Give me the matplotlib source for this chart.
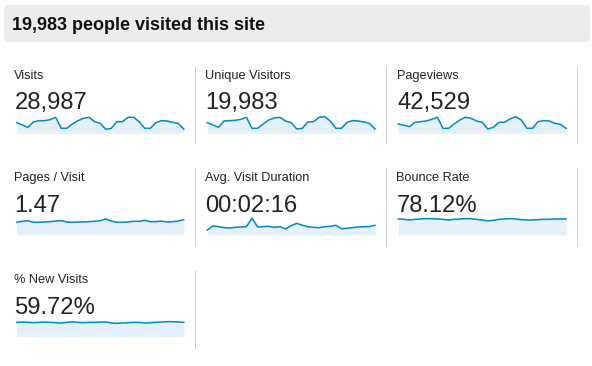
import matplotlib
matplotlib.use("Agg")
import matplotlib.pyplot as plt
from matplotlib.patches import FancyBboxPatch
from matplotlib.lines import Line2D

plt.rcParams['font.family'] = ['Liberation Sans', 'DejaVu Sans']

W, H = 592, 366

title = "19,983 people visited this site"
labels = ["Visits", "Unique Visitors", "Pageviews",
          "Pages / Visit", "Avg. Visit Duration", "Bounce Rate",
          "% New Visits"]
totals = ["28,987", "19,983", "42,529", "1.47", "00:02:16", "78.12%", "59.72%"]

visits = [965, 860, 755, 995, 1055, 1055, 1100, 1205, 710, 710, 905, 1055, 1160, 1205,
          1010, 935, 665, 710, 1010, 1010, 1205, 1205, 1010, 710, 710, 965, 1055, 1040,
          980, 935, 680]
unique = [665, 595, 525, 715, 725, 735, 765, 825, 495, 495, 625, 745, 805, 825, 715,
          665, 475, 495, 685, 695, 825, 845, 715, 495, 495, 675, 725, 715, 685, 645, 475]
pageviews = [1328, 1240, 1152, 1438, 1482, 1526, 1636, 1768, 1042, 1042, 1328, 1592,
             1768, 1702, 1526, 1438, 998, 1108, 1438, 1438, 1658, 1812, 1592, 1042, 1042,
             1482, 1548, 1526, 1372, 1306, 1042]
pages_visit = [1.40, 1.51, 1.58, 1.40, 1.40, 1.43, 1.47, 1.54, 1.58, 1.43, 1.40, 1.43,
               1.43, 1.47, 1.51, 1.58, 1.76, 1.54, 1.40, 1.40, 1.43, 1.51, 1.51, 1.62,
               1.47, 1.47, 1.54, 1.43, 1.47, 1.54, 1.69]
avg_duration = [82, 147, 136, 120, 114, 125, 131, 136, 272, 131, 136, 141, 125, 136, 98,
                152, 190, 158, 136, 125, 120, 136, 141, 158, 103, 109, 120, 131, 136, 136,
                158]
bounce = [78.1, 76.5, 73.2, 76.5, 78.1, 79.7, 79.7, 78.1, 76.5, 73.2, 76.5, 78.1, 79.7,
          79.7, 76.5, 73.2, 68.4, 71.6, 76.5, 78.1, 79.7, 78.1, 74.9, 73.2, 73.2, 74.9,
          76.5, 76.5, 78.1, 78.1, 78.1]
new_visits = [59.7, 61.1, 59.7, 58.3, 59.7, 61.1, 59.7, 58.3, 56.9, 59.7, 62.5, 59.7,
              58.3, 59.7, 59.7, 61.1, 61.1, 56.9, 55.6, 56.9, 58.3, 59.7, 59.7, 56.9,
              58.3, 59.7, 61.1, 62.5, 62.5, 61.1, 59.7]

series = [visits, unique, pageviews, pages_visit, avg_duration, bounce, new_visits]
ylims = [(485, 1310), (345, 895), (712, 1922), (0, 2.205), (0, 326), (0, 97.65), (0, 90.3)]

LINE = '#058dc7'
FILL = '#e5f1fa'

fig = plt.figure(figsize=(W / 100, H / 100), dpi=100)


def fx(x):
    return x / W


def fy(y):
    return 1 - y / H


# header
hdr = FancyBboxPatch((fx(4), fy(42)), fx(586), (37) / H,
                     boxstyle="round,pad=0,rounding_size=0.008",
                     transform=fig.transFigure, facecolor='#ececec',
                     edgecolor='none', mutation_aspect=W / H)
fig.patches.append(hdr)
fig.text(fx(12), fy(29.5), title, fontsize=12.95, fontweight='bold',
         color='#111111', va='baseline', ha='left')

col_x = [14, 205, 396.5]
spark_x = [(16.7, 183.7), (207.3, 375), (398.3, 566)]
row_off = [0, 102, 204]
spark_y = [(115, 133.3), (215, 235), (315, 336.7)]

for i, (lab, tot, vals, yl) in enumerate(zip(labels, totals, series, ylims)):
    r, c = divmod(i, 3)
    off = row_off[r]
    fig.text(fx(col_x[c]), fy(79 + off), lab, fontsize=9.2, color='#222222',
             va='baseline', ha='left')
    fig.text(fx(col_x[c] + 0.5), fy(109.5 + off), tot, fontsize=17.1, color='#222222',
             va='baseline', ha='left')
    x0, x1 = spark_x[c]
    yt, yb = spark_y[r]
    ax = fig.add_axes([fx(x0), fy(yb), (x1 - x0) / W, (yb - yt) / H])
    xs = list(range(len(vals)))
    ax.fill_between(xs, vals, yl[0], color=FILL, linewidth=0)
    ax.plot(xs, vals, color=LINE, linewidth=1.15, clip_on=False,
            solid_joinstyle='round')
    ax.set_xlim(0, len(vals) - 1)
    ax.set_ylim(*yl)
    ax.axis('off')

# separators
sep_rows = [(66.7, 143), (168, 246), (271, 348)]
for r, (a, b) in enumerate(sep_rows):
    xs_sep = [194.5, 385.5, 576.5] if r < 2 else [194.5]
    for xv in xs_sep:
        fig.add_artist(Line2D([fx(xv), fx(xv)], [fy(a), fy(b)],
                              transform=fig.transFigure, color='#cfcfcf',
                              linewidth=0.72, antialiased=False))

fig.savefig('out.png', dpi=100)
